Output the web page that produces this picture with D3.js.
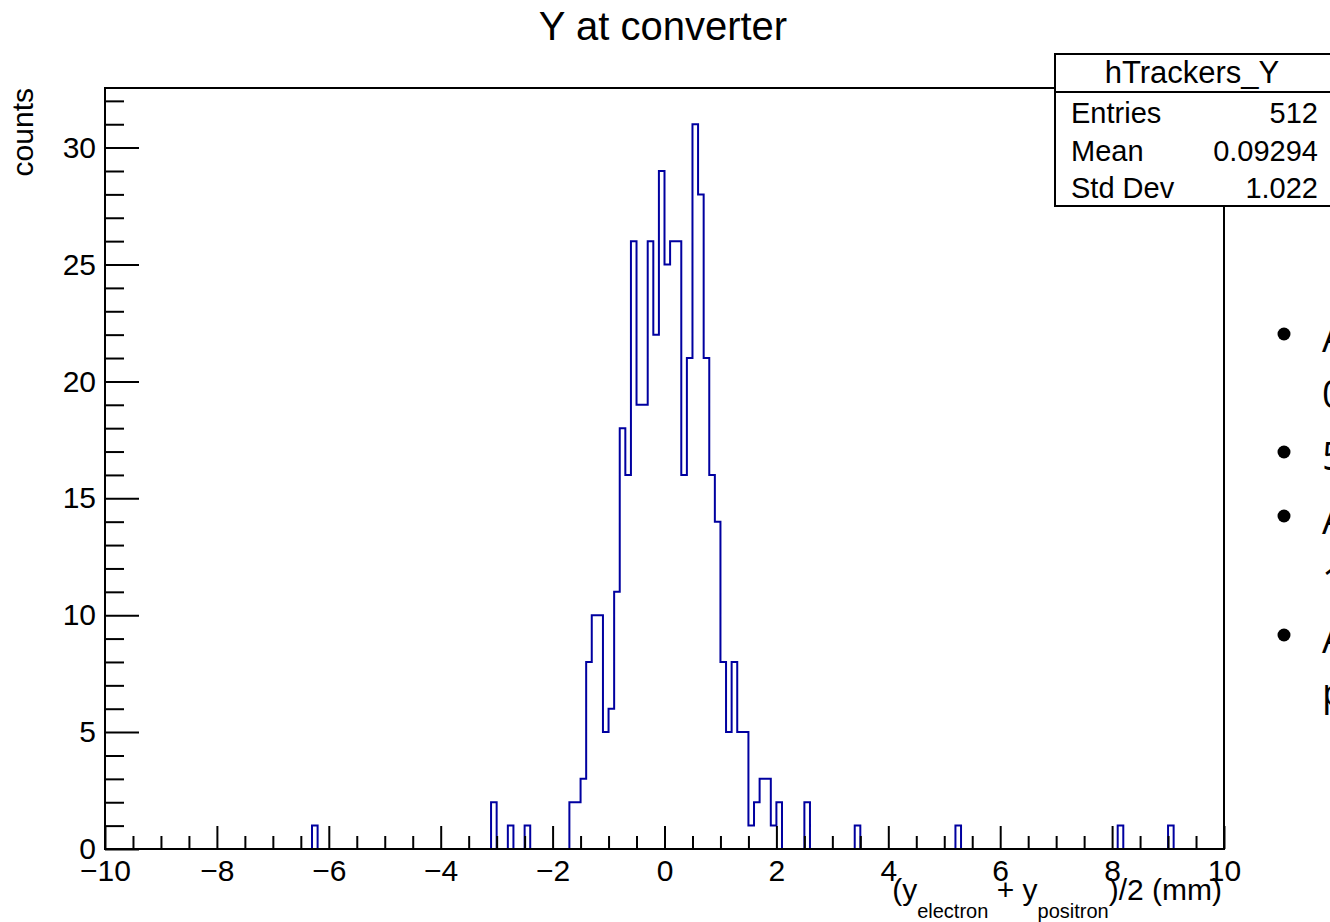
<!DOCTYPE html>
<html>
<head>
<meta charset="utf-8">
<script src="https://cdn.jsdelivr.net/npm/d3@7"></script>
<style>
  body { margin: 0; background: #fff; overflow: hidden; }
  svg { display: block; }
</style>
</head>
<body>
<script>
// histogram bins (lower edge, width 0.1 mm) that have entries
const binLow   = [-6.3, -3.1, -2.8, -2.5, -1.7, -1.6, -1.5, -1.4, -1.3, -1.2, -1.1, -1.0, -0.9, -0.8, -0.7, -0.6,
                  -0.5, -0.4, -0.3, -0.2, -0.1, 0.0, 0.1, 0.2, 0.3, 0.4, 0.5, 0.6, 0.7, 0.8, 0.9, 1.0,
                  1.1, 1.2, 1.3, 1.4, 1.5, 1.6, 1.7, 1.8, 1.9, 2.0, 2.5, 3.4, 5.2, 8.1, 9.0];
const binCount = [1, 2, 1, 1, 2, 2, 3, 8, 10, 10, 5, 6, 11, 18, 16, 26,
                  19, 19, 26, 22, 29, 25, 26, 26, 16, 21, 31, 28, 21, 16, 14, 8,
                  5, 8, 5, 5, 1, 2, 3, 3, 1, 2, 2, 1, 1, 1, 1];
const binWidth = 0.1;
const xRange = [-10, 10];
const yMaxValue = 32.55;

const xMajorTicks = [-10, -8, -6, -4, -2, 0, 2, 4, 6, 8, 10];
const yMajorTicks = [0, 5, 10, 15, 20, 25, 30];

const statLabels = ["Entries", "Mean", "Std Dev"];
const statValues = ["512", "0.09294", "1.022"];

const bulletLines = [
  { text: "A", bullet: true },
  { text: "0", bullet: false },
  { text: "5", bullet: true },
  { text: "A", bullet: true },
  { text: "1", bullet: false },
  { text: "A", bullet: true },
  { text: "p", bullet: false }
];
const bulletBaselines = [352, 408, 470, 534, 595, 653, 706];

const W = 1330, H = 922;
const frame = { left: 105, right: 1224, top: 88, bottom: 849 };
const font = "'Liberation Sans', Arial, Helvetica, sans-serif";

const svg = d3.select("body").append("svg")
    .attr("width", W)
    .attr("height", H);

const x = d3.scaleLinear().domain(xRange).range([frame.left, frame.right]);
const y = d3.scaleLinear().domain([0, yMaxValue]).range([frame.bottom, frame.top]);

// full set of bins (empty ones sit on the axis)
const nBins = Math.round((xRange[1] - xRange[0]) / binWidth);
const counts = new Array(nBins).fill(0);
binLow.forEach((b, i) => {
  counts[Math.round((b - xRange[0]) / binWidth)] = binCount[i];
});

const pts = [[xRange[0], 0]];
counts.forEach((c, i) => {
  const lo = xRange[0] + i * binWidth, hi = lo + binWidth;
  pts.push([lo, c], [hi, c]);
});
pts.push([xRange[1], 0]);

svg.append("path")
    .datum(pts)
    .attr("fill", "none")
    .attr("stroke", "#0000a0")
    .attr("stroke-width", 2)
    .attr("stroke-linejoin", "miter")
    .attr("d", d3.line().x(d => x(d[0])).y(d => y(d[1])));

// frame
svg.append("rect")
    .attr("x", frame.left)
    .attr("y", frame.top)
    .attr("width", frame.right - frame.left)
    .attr("height", frame.bottom - frame.top)
    .attr("fill", "none")
    .attr("stroke", "#000")
    .attr("stroke-width", 2);

// x axis
const xMinor = d3.range(xRange[0], xRange[1] + 0.001, 0.5).filter(v => !xMajorTicks.includes(v));
const gxMinor = svg.append("g")
    .attr("transform", `translate(0,${frame.bottom})`)
    .call(d3.axisBottom(x).tickValues(xMinor).tickSize(-13).tickSizeOuter(0).tickFormat(""));
const gx = svg.append("g")
    .attr("transform", `translate(0,${frame.bottom})`)
    .call(d3.axisBottom(x).tickValues(xMajorTicks).tickSize(-23).tickSizeOuter(0).tickPadding(11)
      .tickFormat(d3.format("d")));

// y axis
const yMinor = d3.range(0, 33, 1).filter(v => !yMajorTicks.includes(v));
const gyMinor = svg.append("g")
    .attr("transform", `translate(${frame.left},0)`)
    .call(d3.axisLeft(y).tickValues(yMinor).tickSize(-19).tickSizeOuter(0).tickFormat(""));
const gy = svg.append("g")
    .attr("transform", `translate(${frame.left},0)`)
    .call(d3.axisLeft(y).tickValues(yMajorTicks).tickSize(-34).tickSizeOuter(0).tickPadding(9));

[gxMinor, gx, gyMinor, gy].forEach(g => {
  g.select(".domain").remove();
  g.selectAll(".tick line").attr("stroke", "#000").attr("stroke-width", 2);
  g.attr("font-size", 30).attr("font-family", font);
  g.selectAll(".tick text").attr("fill", "#000");
});

// title
svg.append("text")
    .attr("x", 663)
    .attr("y", 40)
    .attr("text-anchor", "middle")
    .attr("font-family", font)
    .attr("font-size", 40)
    .text("Y at converter");

// y title
svg.append("text")
    .attr("transform", `translate(33,${frame.top}) rotate(-90)`)
    .attr("text-anchor", "end")
    .attr("font-family", font)
    .attr("font-size", 30)
    .text("counts");

// x title
const xt = svg.append("text")
    .attr("x", 1222)
    .attr("y", 900)
    .attr("text-anchor", "end")
    .attr("font-family", font)
    .attr("font-size", 30);
xt.append("tspan").text("(y");
xt.append("tspan").attr("font-size", 20).attr("dy", 18).text("electron");
xt.append("tspan").attr("dy", -18).text(" + y");
xt.append("tspan").attr("font-size", 20).attr("dy", 18).text("positron");
xt.append("tspan").attr("dy", -18).text(")/2 (mm)");

// stats box
const box = { x: 1055, y: 54, w: 300, h: 152, head: 38 };
svg.append("rect")
    .attr("x", box.x)
    .attr("y", box.y)
    .attr("width", box.w)
    .attr("height", box.h)
    .attr("fill", "#fff")
    .attr("stroke", "#000")
    .attr("stroke-width", 2);
svg.append("line")
    .attr("x1", box.x)
    .attr("x2", box.x + box.w)
    .attr("y1", box.y + box.head)
    .attr("y2", box.y + box.head)
    .attr("stroke", "#000")
    .attr("stroke-width", 2);
svg.append("text")
    .attr("x", 1192)
    .attr("y", 83)
    .attr("text-anchor", "middle")
    .attr("font-family", font)
    .attr("font-size", 31)
    .text("hTrackers_Y");

const rowY = d3.scalePoint().domain(statLabels).range([123, 198]);
svg.selectAll(".statLabel")
    .data(statLabels)
    .enter().append("text")
    .attr("x", 1071)
    .attr("y", d => rowY(d))
    .attr("font-family", font)
    .attr("font-size", 29)
    .text(d => d);
svg.selectAll(".statValue")
    .data(statValues)
    .enter().append("text")
    .attr("x", 1318)
    .attr("y", (d, i) => rowY(statLabels[i]))
    .attr("text-anchor", "end")
    .attr("font-family", font)
    .attr("font-size", 29)
    .text(d => d);

// slide text cut at the right edge
const bl = svg.selectAll(".bline")
    .data(bulletLines)
    .enter().append("g");
bl.filter(d => d.bullet).append("circle")
    .attr("cx", 1284)
    .attr("cy", (d, i, n) => bulletBaselines[bulletLines.indexOf(d)] - 18)
    .attr("r", 6.5)
    .attr("fill", "#000");
bl.append("text")
    .attr("x", 1322)
    .attr("y", (d, i) => bulletBaselines[i])
    .attr("font-family", "'Open Sans', sans-serif")
    .attr("font-size", 38)
    .text(d => d.text);
</script>
</body>
</html>
